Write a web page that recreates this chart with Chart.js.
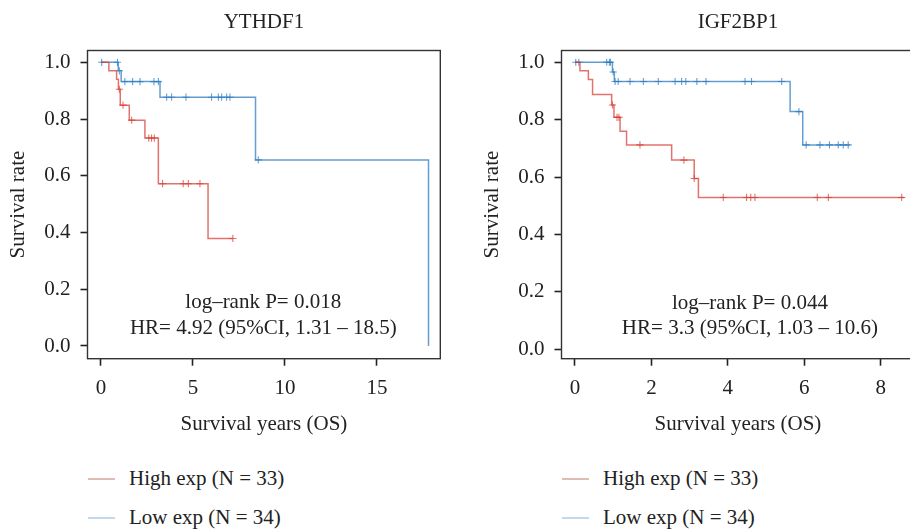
<!DOCTYPE html>
<html><head><meta charset="utf-8">
<script src="https://cdn.jsdelivr.net/npm/chart.js@4"></script>
<style>
html,body{margin:0;padding:0;background:#fff;width:910px;height:530px;overflow:hidden;}
body{position:relative;font-family:"Liberation Serif",serif;}
canvas{position:absolute;top:0;}
#c1{left:0}
#c2{left:474px}
.leg{position:absolute;font-size:21px;color:#222;white-space:nowrap;line-height:24px;height:24px;}
.leg .ln{display:inline-block;width:27px;height:2px;vertical-align:middle;margin-right:14px;position:relative;top:-1px;}
</style></head><body>
<canvas id="c1" width="474" height="450"></canvas>
<canvas id="c2" width="474" height="450"></canvas>
<script>
// ---------- data ----------
const titles = ["YTHDF1", "IGF2BP1"];
const seriesNames = ["High exp (N = 33)", "Low exp (N = 34)"];
const statsLeft = ["log\u2013rank P= 0.018", "HR= 4.92 (95%CI, 1.31 \u2013 18.5)"];
const statsRight = ["log\u2013rank P= 0.044", "HR= 3.3 (95%CI, 1.03 \u2013 10.6)"];
const yTicks = [0, 0.2, 0.4, 0.6, 0.8, 1.0];
const xTicksLeft = [0, 5, 10, 15];
const xTicksRight = [0, 2, 4, 6, 8];
const xTitle = "Survival years (OS)";
const yTitle = "Survival rate";

// YTHDF1 - High exp
const ythHighT = [0, 0.43, 0.85, 0.95, 1.05, 1.54, 2.39, 3.12, 5.82, 7.17];
const ythHighS = [1, 0.97, 0.94, 0.905, 0.849, 0.796, 0.733, 0.572, 0.379, 0.379];
const ythHighCensT = [1.0, 1.2, 1.67, 2.6, 2.75, 2.9, 3.35, 4.47, 4.75, 5.38, 7.17];
const ythHighCensS = [0.905, 0.849, 0.796, 0.733, 0.733, 0.733, 0.572, 0.572, 0.572, 0.572, 0.379];
// YTHDF1 - Low exp
const ythLowT = [0, 0.94, 1.1, 3.21, 8.4, 17.8];
const ythLowS = [1, 0.97, 0.932, 0.877, 0.656, 0];
const ythLowCensT = [0.04, 0.9, 1.0, 1.30, 1.72, 2.12, 2.88, 3.12, 3.57, 3.84, 4.62, 6.01, 6.38, 6.56, 6.83, 7.01, 8.55];
const ythLowCensS = [1, 1, 0.97, 0.932, 0.932, 0.932, 0.932, 0.932, 0.877, 0.877, 0.877, 0.877, 0.877, 0.877, 0.877, 0.877, 0.656];

// IGF2BP1 - High exp
const igfHighT = [0, 0.13, 0.35, 0.46, 0.96, 1.02, 1.18, 1.35, 2.53, 3.12, 3.23, 8.62];
const igfHighS = [1, 0.97, 0.94, 0.888, 0.851, 0.808, 0.76, 0.712, 0.659, 0.595, 0.529, 0.529];
const igfHighCensT = [0.98, 1.1, 1.15, 1.7, 2.85, 3.12, 3.88, 4.49, 4.6, 4.71, 6.34, 6.63, 8.55];
const igfHighCensS = [0.851, 0.808, 0.808, 0.712, 0.659, 0.595, 0.529, 0.529, 0.529, 0.529, 0.529, 0.529, 0.529];
// IGF2BP1 - Low exp
const igfLowT = [0, 0.98, 1.03, 5.63, 5.96, 7.2];
const igfLowS = [1, 0.966, 0.933, 0.828, 0.712, 0.712];
const igfLowCensT = [0.02, 0.1, 0.83, 0.9, 0.93, 1.0, 1.05, 1.13, 1.44, 1.79, 2.18, 2.62, 2.79, 2.90, 3.19, 3.43, 4.45, 4.62, 5.41, 5.86, 6.05, 6.41, 6.66, 6.89, 7.02, 7.15];
const igfLowCensS = [1, 1, 1, 1, 1, 0.966, 0.933, 0.933, 0.933, 0.933, 0.933, 0.933, 0.933, 0.933, 0.933, 0.933, 0.933, 0.933, 0.933, 0.828, 0.712, 0.712, 0.712, 0.712, 0.712, 0.712];

// ---------- style ----------
const RED = 'rgba(215,60,50,0.72)';
const BLUE = 'rgba(40,120,190,0.72)';
const RED_LEG = 'rgb(226,188,180)';
const BLUE_LEG = 'rgb(196,215,235)';
const TXT = '#222';
const FONT = {family: '"Liberation Serif", "Times New Roman", serif', size: 21};
const H = 450;
const AREA_BOTTOM = 358.7;

const pts = (t, s) => t.map((v, i) => ({x: v, y: s[i]}));

const deco = {
  id: 'deco',
  afterDraw(chart) {
    const o = chart.options.plugins.deco;
    const {ctx, chartArea: a} = chart;
    ctx.save();
    ctx.strokeStyle = '#333';
    ctx.lineWidth = 1.4;
    ctx.strokeRect(a.left, a.top, a.right - a.left, a.bottom - a.top);
    ctx.fillStyle = TXT;
    ctx.font = '21px "Liberation Serif", serif';
    ctx.textAlign = 'center';
    ctx.textBaseline = 'middle';
    ctx.fillText(o.title, (a.left + a.right) / 2, 22);
    const xs = chart.scales.x, ys = chart.scales.y;
    o.stats.forEach((s, i) => ctx.fillText(s, xs.getPixelForValue(o.statX), ys.getPixelForValue(o.statY[i])));
    ctx.restore();
  }
};

function makeChart(id, cfg) {
  const datasets = [
    {data: pts(cfg.highT, cfg.highS), stepped: true, borderColor: cfg.red, borderWidth: 1.5, pointRadius: 0, fill: false},
    {data: pts(cfg.lowT, cfg.lowS), stepped: true, borderColor: cfg.blue, borderWidth: 1.5, pointRadius: 0, fill: false},
    {data: pts(cfg.highCT, cfg.highCS), showLine: false, pointStyle: 'cross', pointRadius: 3.6, pointBorderWidth: 1.1, pointBorderColor: cfg.red, borderColor: cfg.red},
    {data: pts(cfg.lowCT, cfg.lowCS), showLine: false, pointStyle: 'cross', pointRadius: 3.6, pointBorderWidth: 1.1, pointBorderColor: cfg.blue, borderColor: cfg.blue}
  ];
  return new Chart(document.getElementById(id), {
    type: 'line',
    data: {datasets},
    plugins: [deco],
    options: {
      responsive: false, animation: false, devicePixelRatio: 1,
      layout: {padding: {top: 50.5, left: 0, right: 33.7, bottom: 0}},
      plugins: {
        legend: {display: false}, tooltip: {enabled: false}, title: {display: false},
        deco: {title: cfg.title, stats: cfg.stats, statX: cfg.statX, statY: cfg.statY}
      },
      scales: {
        x: {
          type: 'linear', min: cfg.xmin, max: cfg.xmax,
          afterBuildTicks: s => { s.ticks = cfg.xTicks.map(v => ({value: v})); },
          afterFit: s => { s.height = H - AREA_BOTTOM; },
          grid: {drawOnChartArea: false, drawTicks: true, tickLength: 7, tickColor: '#222', tickWidth: 1.6},
          border: {display: false},
          ticks: {padding: 9.7, color: TXT, font: FONT, maxRotation: 0, autoSkip: false, callback: v => String(v)},
          title: {display: true, text: xTitle, color: TXT, font: FONT, padding: {top: 0, bottom: 13.4}}
        },
        y: {
          type: 'linear', min: cfg.ymin, max: cfg.ymax,
          afterBuildTicks: s => { s.ticks = yTicks.map(v => ({value: v})); },
          afterFit: s => { s.width = 87.5; },
          grid: {drawOnChartArea: false, drawTicks: true, tickLength: 7, tickColor: '#222', tickWidth: 1.6},
          border: {display: false},
          ticks: {padding: 10, color: TXT, font: FONT, autoSkip: false, callback: v => Number(v).toFixed(1)},
          title: {display: true, text: yTitle, color: TXT, font: FONT, padding: {top: 5.4, bottom: 0}}
        }
      }
    }
  });
}

makeChart('c1', {
  title: titles[0], stats: statsLeft, statX: 8.82, statY: [0.155, 0.063],
  xmin: -0.73, xmax: 18.44, ymin: -0.0448, ymax: 1.0416, xTicks: xTicksLeft,
  red: RED, blue: BLUE,
  highT: ythHighT, highS: ythHighS, lowT: ythLowT, lowS: ythLowS,
  highCT: ythHighCensT, highCS: ythHighCensS, lowCT: ythLowCensT, lowCS: ythLowCensS
});
makeChart('c2', {
  title: titles[1], stats: statsRight, statX: 4.58, statY: [0.161, 0.074],
  xmin: -0.353, xmax: 8.88, ymin: -0.033, ymax: 1.041, xTicks: xTicksRight,
  red: RED, blue: BLUE,
  highT: igfHighT, highS: igfHighS, lowT: igfLowT, lowS: igfLowS,
  highCT: igfHighCensT, highCS: igfHighCensS, lowCT: igfLowCensT, lowCS: igfLowCensS
});

// ---------- legends (HTML) ----------
function addLegend(left) {
  [[RED_LEG, seriesNames[0], 466], [BLUE_LEG, seriesNames[1], 505]].forEach(([c, t, top]) => {
    const d = document.createElement('div');
    d.className = 'leg';
    d.style.left = left + 'px';
    d.style.top = top + 'px';
    const l = document.createElement('span');
    l.className = 'ln';
    l.style.background = c;
    d.appendChild(l);
    d.appendChild(document.createTextNode(t));
    document.body.appendChild(d);
  });
}
addLegend(88);
addLegend(562);
</script>
</body></html>
